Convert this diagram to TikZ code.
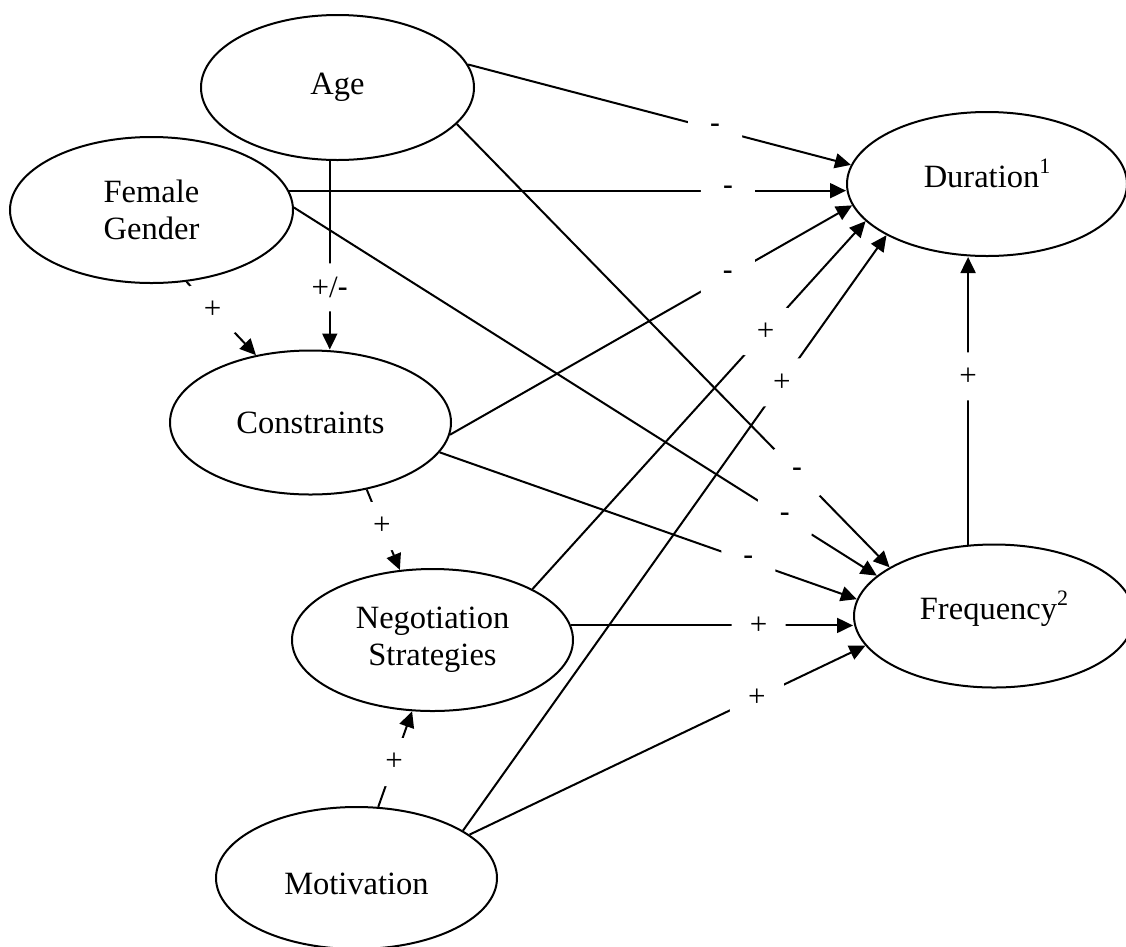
\documentclass[tikz,border=0pt]{standalone}
\usepackage{fontspec}
\setmainfont{Liberation Serif}
\newfontfamily\signfont{Liberation Sans}
\usetikzlibrary{shapes.geometric,arrows.meta}
\newcommand\supnum[1]{\raisebox{14pt}{\fontsize{22}{22}\selectfont #1}}

\begin{document}
\begin{tikzpicture}[x=1pt,y=-1pt,
  var/.style={ellipse,draw,line width=2pt,inner sep=0pt,
    minimum width=281pt,minimum height=144pt,
    font=\fontsize{32.5}{37}\selectfont,align=center},
  link/.style={line width=2pt,-{Triangle[length=16pt,width=15pt]}},
  signlabel/.style={fill=white,rounded corners=8pt,inner sep=0pt,
    minimum width=54pt,minimum height=48pt,
    font=\fontsize{31}{34}\selectfont},
]
\useasboundingbox (0,0) rectangle (1126,946);

% latent variables
\node[var,minimum width=273pt,minimum height=145pt] (age) at (337.5,87.5) {Age};
\node[var,minimum width=283pt,minimum height=146pt] (fem) at (151.5,210) {Female\\Gender};
\node[var] (con) at (310.5,422.5) {Constraints};
\node[var,minimum height=142pt] (neg) at (432.5,640) {Negotiation\\Strategies};
\node[var,minimum height=142pt,text height=32pt,text depth=0pt] (mot) at (356.5,878) {Motivation};
\node[var,minimum width=280pt,text height=21pt,text depth=15pt] (dur) at (987,184) {Duration\supnum{1}};
\node[var,minimum width=280pt,minimum height=143pt,text height=21pt,text depth=15pt] (freq) at (994,616) {Frequency\supnum{2}};

% paths into Duration
\draw[link] (age.10.2) -- node[signlabel,pos=.645]{\signfont -} (dur.172.9);
\draw[link] (fem.8.8) -- node[signlabel,pos=.788]{\signfont -} (fem.8.8 -| dur.west);
\draw[link] (con.355) -- node[signlabel,pos=.691]{\signfont -} (dur.189.7);
\draw[link] (neg.27.4) -- node[signlabel,pos=.70]{+} (dur.197.7);
\draw[link] (mot.24) -- node[signlabel,pos=.753]{+} (dur.207.8);
\draw[link] (freq.110.1) -- node[signlabel,pos=.585]{+} (freq.110.1 |- dur.south);

% paths into Frequency
\draw[link] (age.343.6) -- node[signlabel,pos=.786]{\signfont -} (freq.155.6);
\draw[link] (fem.1.6) -- node[signlabel,pos=.842]{\signfont -} (freq.161.2);
\draw[link] (con.347.9) -- node[signlabel,pos=.74]{\signfont -} (freq.173.7);
\draw[link] (neg.6.5) -- node[signlabel,pos=.665]{+} (neg.6.5 -| freq.west);
\draw[link] (mot.21.6) -- node[signlabel,pos=.726]{+} (freq.193.4);

% paths among the predictors
\draw[link] (age.264.2) -- node[signlabel,pos=.671]{+/{\signfont -}} (age.264.2 |- con.north);
\draw[link] (fem.296.2) -- node[signlabel,pos=.375]{+} (con.129.3);
\draw[link] (con.310.8) -- node[signlabel,pos=.456]{+} (neg.115.3);
\draw[link] (mot.73.9) -- node[signlabel,pos=.468]{+} (neg.254.8);
\end{tikzpicture}
\end{document}
